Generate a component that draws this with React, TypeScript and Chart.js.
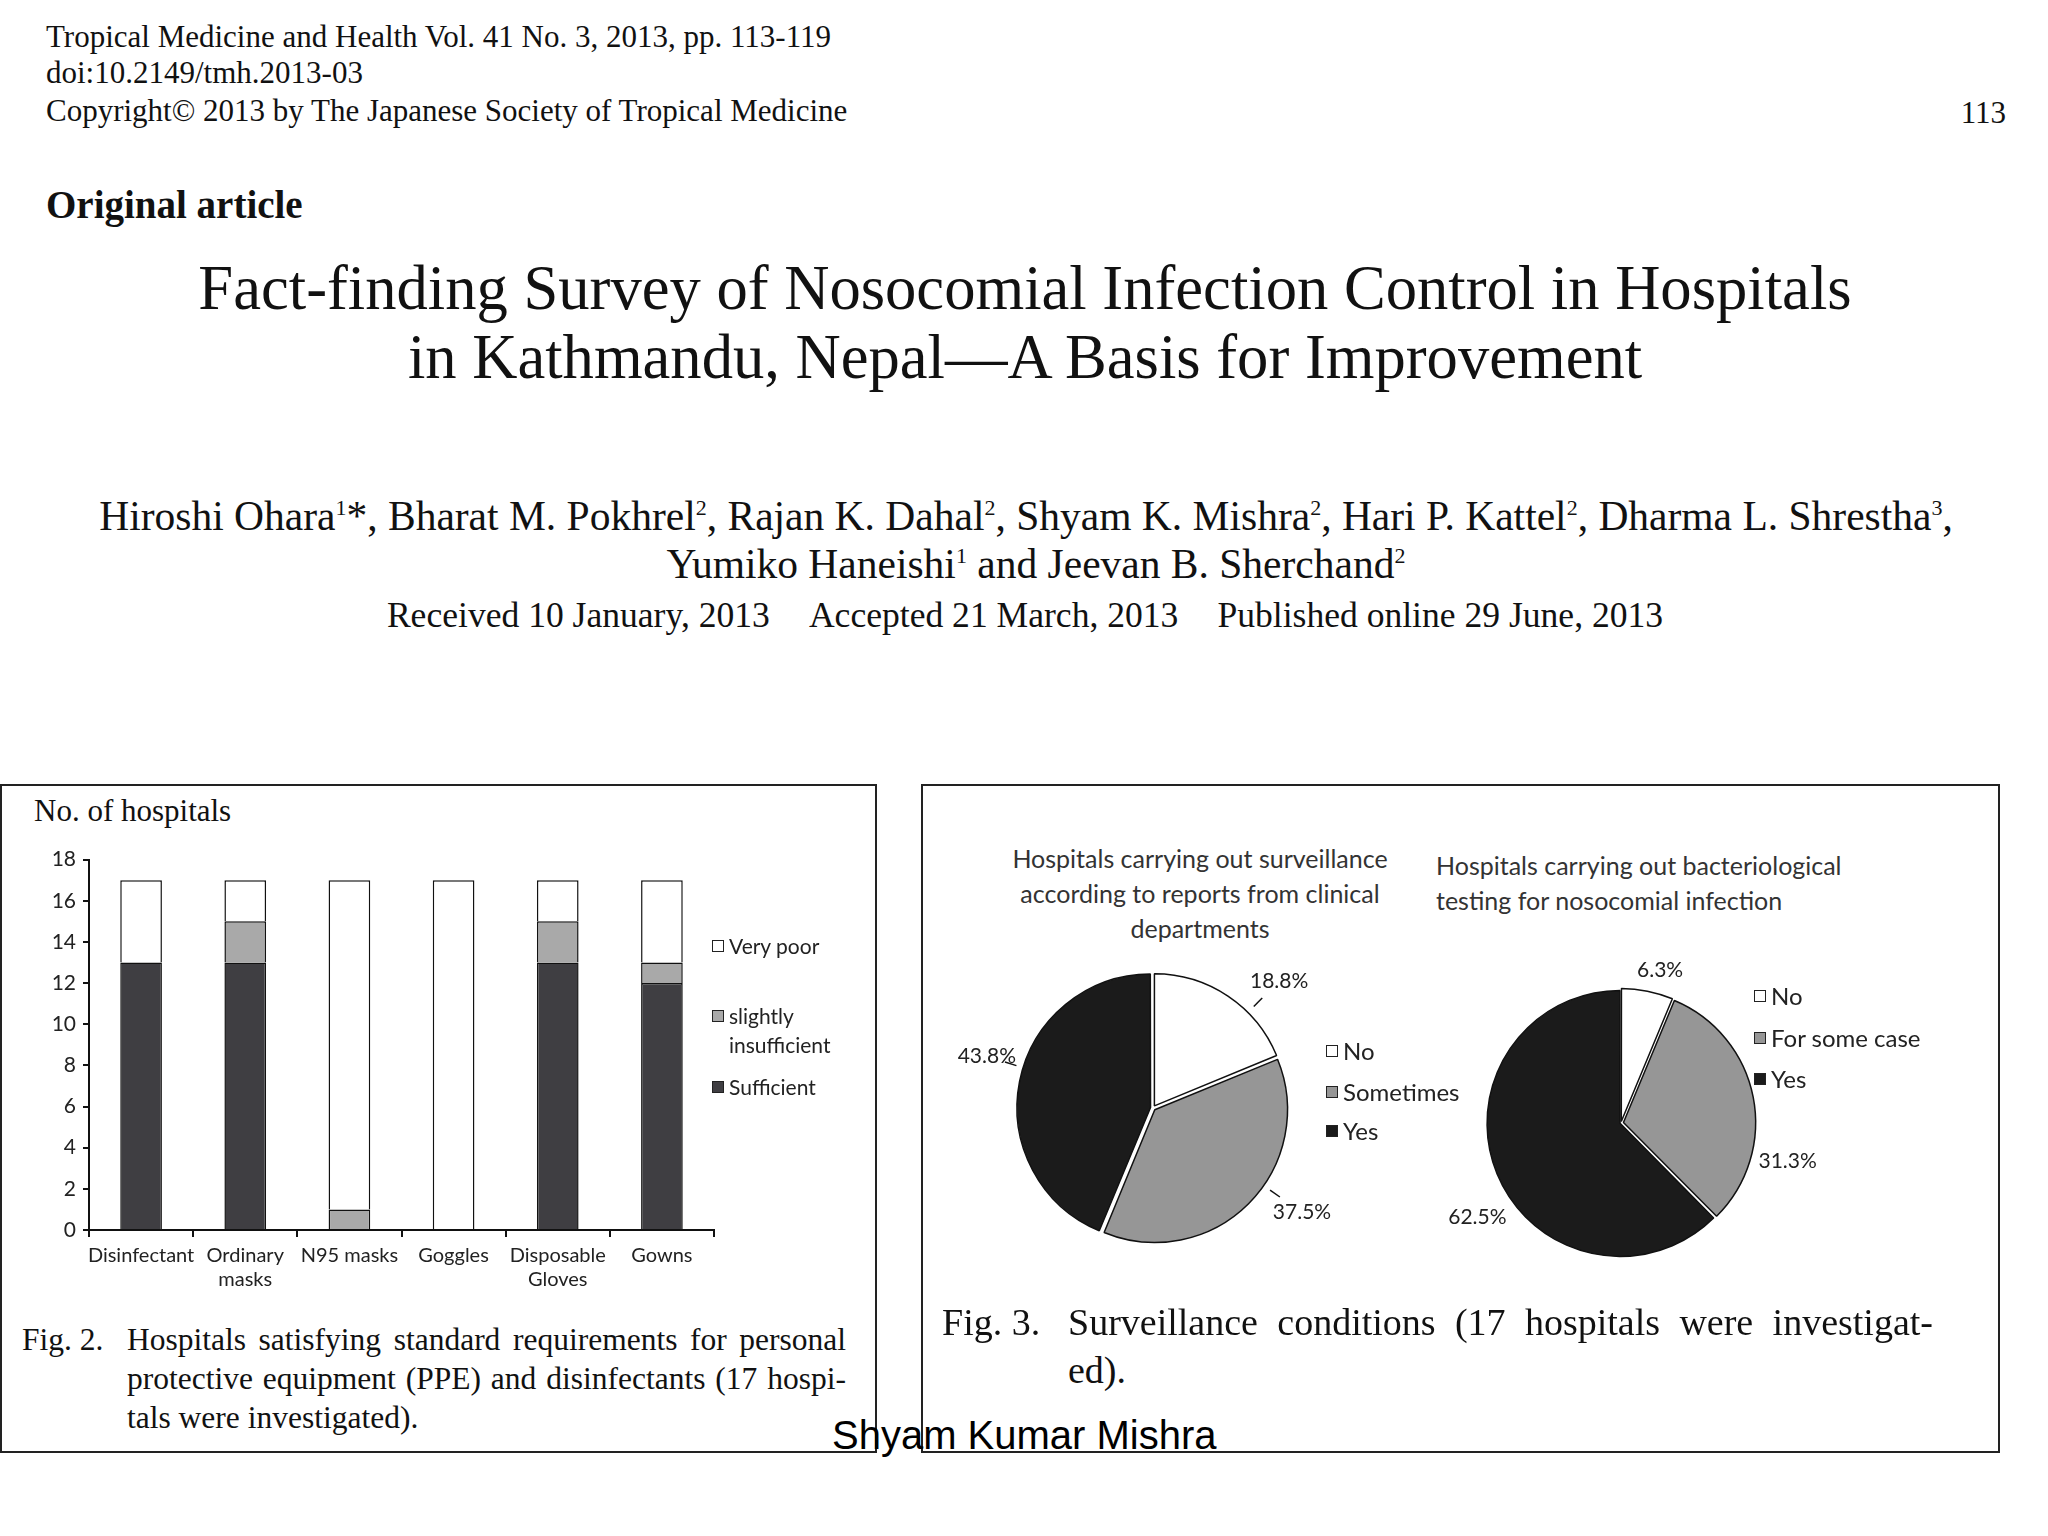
import React, { useEffect, useRef } from "react";
import { Chart, registerables } from "chart.js";

Chart.register(...registerables);

// ---------- data ----------
const barCategories = [["Disinfectant"], ["Ordinary", "masks"], ["N95 masks"], ["Goggles"], ["Disposable", "Gloves"], ["Gowns"]];
const sufficient = [13, 13, 0, 0, 13, 12];
const slightlyInsufficient = [0, 2, 1, 0, 2, 1];
const veryPoor = [4, 2, 16, 17, 2, 4];
const barSeriesNames = ["Sufficient", "slightly insufficient", "Very poor"];
const yMax = 18;
const yStep = 2;

const pie1Title = ["Hospitals carrying out surveillance", "according to reports from clinical", "departments"];
const pie1Labels = ["No", "Sometimes", "Yes"];
const pie1Values = [18.8, 37.5, 43.8];

const pie2Title = ["Hospitals carrying out bacteriological", "testing for nosocomial infection"];
const pie2Labels = ["No", "For some case", "Yes"];
const pie2Values = [6.3, 31.3, 62.5];

// ---------- layout (label placement: angle shift in degrees, distance from centre) ----------
const pie1LabelShift = [11, -10, 6];
const pie1LabelDist = [179, 182, 174];
const pie2LabelShift = [3, 24, -11];
const pie2LabelDist = [158, 171, 172];

// ---------- styles ----------
const SANS = "Lato, 'Noto Sans', sans-serif";
const SERIF = "'Liberation Serif', 'DejaVu Serif', serif";
const ARIAL = "'Liberation Sans', Arial, sans-serif";
const DARK = "#3f3e42";
const GRAY_BAR = "#a9a9a9";
const PIE_COLORS = ["#ffffff", "#969696", "#1b1b1b"];

type TProps = { x: number; y: number; size: number; font?: string; weight?: number | string; align?: "left" | "center" | "right"; color?: string; children: React.ReactNode; width?: number; justify?: boolean };
function T({ x, y, size, font = SERIF, weight = 400, align = "left", color = "#111", children, width, justify }: TProps) {
  const style: React.CSSProperties = {
    position: "absolute",
    top: y - size * 0.6,
    lineHeight: `${size * 1.2}px`,
    fontSize: size,
    fontFamily: font,
    fontWeight: weight as any,
    color,
    whiteSpace: justify ? "normal" : "pre",
  };
  if (align === "left") style.left = x;
  if (align === "right") style.right = 2048 - x;
  if (align === "center") { style.left = x; style.transform = "translateX(-50%)"; }
  if (width) style.width = width;
  if (justify) {
    style.textAlign = "justify";
    (style as any).textAlignLast = "justify";
    style.height = size * 1.2;
    style.overflow = "hidden";
  }
  return <div style={style}>{children}</div>;
}

function BarChart() {
  const ref = useRef<HTMLCanvasElement>(null);
  useEffect(() => {
    const nz = (a: number[]) => a.map((v) => (v === 0 ? null : v));
    const common = { borderColor: "#111", borderWidth: 1.5, categoryPercentage: 1, barPercentage: 0.4 };
    const chart = new Chart(ref.current!, {
      type: "bar",
      data: {
        labels: barCategories,
        datasets: [
          { label: barSeriesNames[0], data: nz(sufficient), backgroundColor: DARK, ...common },
          { label: barSeriesNames[1], data: nz(slightlyInsufficient), backgroundColor: GRAY_BAR, ...common },
          { label: barSeriesNames[2], data: nz(veryPoor), backgroundColor: "#ffffff", ...common },
        ] as any,
      },
      options: {
        responsive: false,
        animation: false,
        layout: { padding: { top: 18, right: 26, left: 0, bottom: 0 } },
        plugins: { legend: { display: false }, tooltip: { enabled: false } },
        scales: {
          x: {
            stacked: true,
            grid: { display: true, drawOnChartArea: false, drawTicks: true, tickLength: 7, color: "#111", lineWidth: 2, offset: true },
            border: { display: true, color: "#111", width: 2 },
            ticks: { font: { family: SANS, size: 20 }, color: "#222", padding: 7, maxRotation: 0, autoSkip: false },
            afterFit: (s: any) => { s.height = 70; },
          },
          y: {
            stacked: true,
            min: 0,
            max: yMax,
            grid: { display: true, drawOnChartArea: false, drawTicks: true, tickLength: 6, color: "#111", lineWidth: 2 },
            border: { display: true, color: "#111", width: 2 },
            ticks: { stepSize: yStep, font: { family: SANS, size: 21 }, color: "#222", padding: 7 },
            afterFit: (s: any) => { s.width = 89; },
          },
        },
      } as any,
    });
    return () => chart.destroy();
  }, []);
  return <canvas ref={ref} width={740} height={460} style={{ position: "absolute", left: 0, top: 840 }} />;
}

type PieProps = { labels: string[]; values: number[]; offsets: number[]; leader: boolean; cx: number; cy: number; radius: number; shift: number[]; dist: number[] };
function PieChart({ labels, values, offsets, leader, cx, cy, radius, shift, dist }: PieProps) {
  const ref = useRef<HTMLCanvasElement>(null);
  const size = 440;
  useEffect(() => {
    const labelPlugin = {
      id: "pieLabels",
      afterDatasetsDraw(chart: any) {
        const ctx = chart.ctx;
        const meta = chart.getDatasetMeta(0);
        ctx.save();
        ctx.font = `21px ${SANS}`;
        ctx.fillStyle = "#222";
        ctx.strokeStyle = "#111";
        ctx.lineWidth = 1.5;
        ctx.textAlign = "center";
        ctx.textBaseline = "middle";
        meta.data.forEach((arc: any, i: number) => {
          const p = arc.getProps(["x", "y", "startAngle", "endAngle", "outerRadius"], true);
          const ang = (p.startAngle + p.endAngle) / 2 + (shift[i] * Math.PI) / 180;
          const c = Math.cos(ang), s = Math.sin(ang);
          const edge = p.outerRadius + offsets[i];
          if (leader) {
            ctx.beginPath();
            ctx.moveTo(p.x + c * (edge + 1), p.y + s * (edge + 1));
            ctx.lineTo(p.x + c * (edge + 13), p.y + s * (edge + 13));
            ctx.stroke();
          }
          ctx.fillText(values[i].toFixed(1) + "%", p.x + c * dist[i], p.y + s * dist[i]);
        });
        ctx.restore();
      },
    };
    const chart = new Chart(ref.current!, {
      type: "pie",
      data: {
        labels,
        datasets: [
          {
            data: values,
            backgroundColor: PIE_COLORS,
            borderColor: "#111",
            borderWidth: 1.5,
            offset: offsets,
            radius,
          },
        ] as any,
      },
      options: {
        responsive: false,
        animation: false,
        layout: { padding: 0 },
        plugins: { legend: { display: false }, tooltip: { enabled: false } },
      } as any,
      plugins: [labelPlugin],
    });
    return () => chart.destroy();
  }, []);
  return <canvas ref={ref} width={size} height={size} style={{ position: "absolute", left: cx - size / 2, top: cy - size / 2 }} />;
}

function LegendItem({ x, y, color, lines, size }: { x: number; y: number; color: string; lines: string[]; size: number }) {
  return (
    <>
      <div style={{ position: "absolute", left: x, top: y - 6, width: 10, height: 10, background: color, border: "1.5px solid #222" }} />
      {lines.map((l, i) => (
        <T key={i} x={x + 17} y={y + i * 29} size={size} font={SANS} color="#222">{l}</T>
      ))}
    </>
  );
}

const sup = (n: string) => <sup style={{ fontSize: 22 }}>{n}</sup>;

export default function App() {
  const barLegendY = [1087, 1016, 946];
  const barLegendColors = [DARK, GRAY_BAR, "#ffffff"];
  const barLegendLines = [["Sufficient"], ["slightly", "insufficient"], ["Very poor"]];
  const pie1LegY = [1051, 1092, 1131];
  const pie2LegY = [996, 1038, 1079];
  return (
    <div style={{ position: "absolute", left: 0, top: 0, width: 2048, height: 1536, background: "#fff", overflow: "hidden" }}>
      <T x={46} y={37} size={31}>Tropical Medicine and Health Vol. 41 No. 3, 2013, pp. 113-119</T>
      <T x={46} y={73} size={31}>doi:10.2149/tmh.2013-03</T>
      <T x={46} y={111} size={31}>Copyright© 2013 by The Japanese Society of Tropical Medicine</T>
      <T x={2006} y={113} size={31} align="right">113</T>
      <T x={46} y={205} size={39} weight={700}>Original article</T>
      <T x={1025} y={289} size={62.6} align="center">Fact-finding Survey of Nosocomial Infection Control in Hospitals</T>
      <T x={1025} y={358} size={62.6} align="center">in Kathmandu, Nepal—A Basis for Improvement</T>
      <T x={1026} y={508} size={41.5} align="center">
        Hiroshi Ohara{sup("1")}*, Bharat M. Pokhrel{sup("2")}, Rajan K. Dahal{sup("2")}, Shyam K. Mishra{sup("2")}, Hari P. Kattel{sup("2")}, Dharma L. Shrestha{sup("3")},
      </T>
      <T x={1036} y={556} size={41.5} align="center">
        Yumiko Haneishi{sup("1")} and Jeevan B. Sherchand{sup("2")}
      </T>
      <T x={1025} y={615} size={35.6} align="center">
        <span>Received 10 January, 2013</span>
        <span style={{ marginLeft: 39 }}>Accepted 21 March, 2013</span>
        <span style={{ marginLeft: 39 }}>Published online 29 June, 2013</span>
      </T>

      {/* left panel */}
      <div style={{ position: "absolute", left: 0, top: 784, width: 873, height: 665, border: "2px solid #222" }} />
      <T x={34} y={811} size={31}>No. of hospitals</T>
      <BarChart />
      {barLegendY.map((y, i) => (
        <LegendItem key={i} x={712} y={y} color={barLegendColors[i]} lines={barLegendLines[i]} size={21} />
      ))}
      <T x={22} y={1340} size={31.5}>Fig. 2.</T>
      <T x={127} y={1340} size={31.5} width={719} justify>Hospitals satisfying standard requirements for personal</T>
      <T x={127} y={1379} size={31.5} width={719} justify>protective equipment (PPE) and disinfectants (17 hospi-</T>
      <T x={127} y={1418} size={31.5}>tals were investigated).</T>

      {/* right panel */}
      <div style={{ position: "absolute", left: 921, top: 784, width: 1075, height: 665, border: "2px solid #222" }} />
      {pie1Title.map((l, i) => (
        <T key={i} x={1200} y={858 + i * 35} size={25} font={SANS} align="center" color="#333">{l}</T>
      ))}
      {pie2Title.map((l, i) => (
        <T key={i} x={1436} y={865 + i * 35} size={25} font={SANS} color="#333">{l}</T>
      ))}
      <PieChart labels={pie1Labels} values={pie1Values} offsets={[10, 10, 10]} leader={true} cx={1153} cy={1108} radius={132} shift={pie1LabelShift} dist={pie1LabelDist} />
      <PieChart labels={pie2Labels} values={pie2Values} offsets={[6, 10, 4]} leader={false} cx={1621} cy={1123} radius={132} shift={pie2LabelShift} dist={pie2LabelDist} />
      {pie1Labels.map((l, i) => (
        <LegendItem key={i} x={1326} y={pie1LegY[i]} color={PIE_COLORS[i]} lines={[l]} size={24} />
      ))}
      {pie2Labels.map((l, i) => (
        <LegendItem key={i} x={1754} y={pie2LegY[i]} color={PIE_COLORS[i]} lines={[l]} size={24} />
      ))}
      <T x={942} y={1323} size={38}>Fig. 3.</T>
      <T x={1068} y={1323} size={38} width={865} justify>Surveillance conditions (17 hospitals were investigat-</T>
      <T x={1068} y={1371} size={38}>ed).</T>

      <T x={832} y={1435} size={40} font={ARIAL} color="#000">Shyam Kumar Mishra</T>
    </div>
  );
}
